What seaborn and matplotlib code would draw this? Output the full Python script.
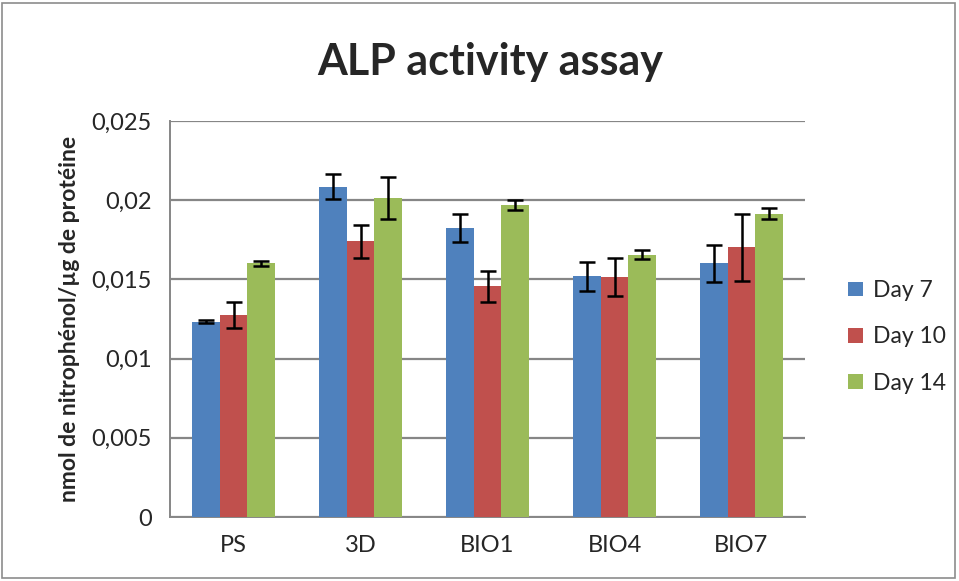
import matplotlib
matplotlib.use("Agg")
import matplotlib.pyplot as plt
import seaborn as sns
import pandas as pd
import numpy as np
from matplotlib.ticker import FixedLocator
from matplotlib.patches import Rectangle

categories = ["PS", "3D", "BIO1", "BIO4", "BIO7"]
series = ["Day 7", "Day 10", "Day 14"]
day7 = [0.01233, 0.02085, 0.01827, 0.01519, 0.01601]
day10 = [0.01275, 0.01740, 0.01458, 0.01515, 0.01702]
day14 = [0.01601, 0.02014, 0.01970, 0.01656, 0.01915]
err7 = [0.00010, 0.00080, 0.00088, 0.00090, 0.00119]
err10 = [0.00080, 0.00104, 0.00098, 0.00119, 0.00210]
err14 = [0.00014, 0.00131, 0.00034, 0.00030, 0.00036]
colors = ["#4F81BD", "#C0504D", "#9BBB59"]
yticks = [0, 0.005, 0.01, 0.015, 0.02, 0.025]
ytick_labels = ["0", "0,005", "0,01", "0,015", "0,02", "0,025"]

rows = []
for s, vals, errs in zip(series, [day7, day10, day14], [err7, err10, err14]):
    for c, v, e in zip(categories, vals, errs):
        rows.append({"cat": c, "day": s, "val": v, "err": e})
df = pd.DataFrame(rows)

sns.set_style("white")
plt.rcParams['font.family'] = ['Lato', 'DejaVu Sans']

fig = plt.figure(figsize=(9.59, 5.81), dpi=100)
ax = fig.add_axes([170/959, 1-517/581, 635/959, 396/581])

sns.barplot(data=df, x="cat", y="val", hue="day", order=categories,
            hue_order=series, palette=colors, width=0.66, errorbar=None,
            saturation=1, ax=ax, zorder=3, edgecolor="none")

for i, s in enumerate(series):
    cont = ax.containers[i]
    sub = df[df.day == s].set_index("cat").loc[categories]
    xs = [p.get_x() + p.get_width()/2 for p in cont.patches]
    ax.errorbar(xs, sub["val"].values, yerr=sub["err"].values, fmt="none",
                ecolor="black", elinewidth=1.8, capsize=5.5, capthick=1.8, zorder=4)

ax.set_ylim(0, 0.025)
ax.set_xlim(-0.5, len(categories) - 0.5)
ax.yaxis.set_major_locator(FixedLocator(yticks))
ax.set_yticklabels(ytick_labels)
ax.grid(axis="y", color="#868686", linewidth=1.6, zorder=0)
ax.set_axisbelow(True)

ax.set_xticks(np.arange(len(categories)))
ax.set_xticklabels(categories)
ax.set_xticks(np.arange(-0.5, len(categories)), minor=True)
ax.tick_params(axis="x", which="major", length=0, pad=13, labelsize=17)
ax.tick_params(axis="x", which="minor", length=6, width=1.3, color="#868686", direction="out")
ax.tick_params(axis="y", length=7, width=1.3, color="#868686", direction="out", pad=6, labelsize=17)

for side in ["top", "right"]:
    ax.spines[side].set_visible(False)
for side in ["left", "bottom"]:
    ax.spines[side].set_color("#868686")
    ax.spines[side].set_linewidth(1.4)

ax.set_xlabel("")
ax.set_ylabel("nmol de nitrophénol/µg de protéine", fontsize=16.5, fontweight="bold", labelpad=8)

leg = ax.legend(loc="center left", bbox_to_anchor=(1.054, 0.455), frameon=False,
                fontsize=16.5, handlelength=0.62, handleheight=0.62, labelspacing=1.1,
                handletextpad=0.44, borderaxespad=0)

fig.suptitle("ALP activity assay", fontsize=31, fontweight="bold", x=490/959, y=1-62/581, va="center")

fig.patches.append(Rectangle((2/959, 3/581), 953/959, 575/581, transform=fig.transFigure,
                             fill=False, edgecolor="#8C8C8C", linewidth=1.2))

fig.savefig("out.png", dpi=100)
